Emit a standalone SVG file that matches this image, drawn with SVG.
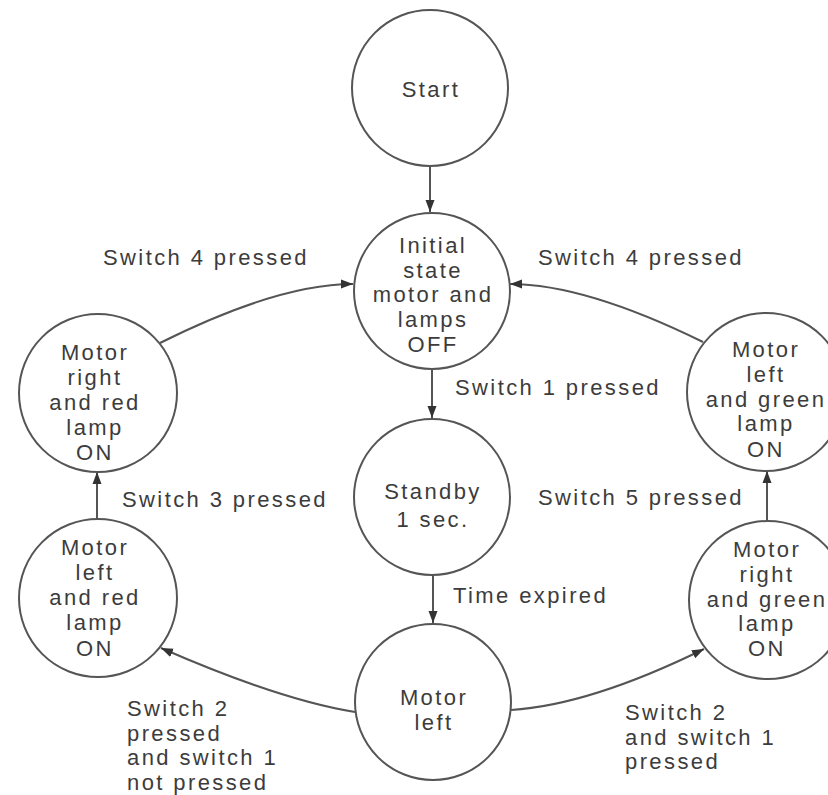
<svg xmlns="http://www.w3.org/2000/svg" width="828" height="795" viewBox="0 0 828 795">
<style>
.n{fill:#fff;stroke:#555;stroke-width:2}
text{font-family:"Liberation Sans",Arial,sans-serif;font-size:22px;fill:#3c3c3c;letter-spacing:2.4px}
.c{text-anchor:middle}
.e{fill:none;stroke:#555;stroke-width:2}
</style>
<defs>
<marker id="ah" markerUnits="userSpaceOnUse" markerWidth="14" markerHeight="10" refX="12" refY="5" orient="auto">
<path d="M0,0.5 L12,5 L0,9.5 Z" fill="#333"/>
</marker>
</defs>
<rect width="828" height="795" fill="#fff"/>
<g id="connectors">
<path class="e" d="M430,166 L430,212" marker-end="url(#ah)"/>
<path class="e" d="M432,369 L432,418" marker-end="url(#ah)"/>
<path class="e" d="M433,575 L433,623" marker-end="url(#ah)"/>
<path class="e" d="M97,520 L97,472" marker-end="url(#ah)"/>
<path class="e" d="M767,521 L767,471" marker-end="url(#ah)"/>
<path class="e" d="M160,343 Q278,284 353,284" marker-end="url(#ah)"/>
<path class="e" d="M703,342 Q585,284 510,284" marker-end="url(#ah)"/>
<path class="e" d="M355,712 Q280,700 161,648" marker-end="url(#ah)"/>
<path class="e" d="M511,710 Q590,705 704,649" marker-end="url(#ah)"/>
<text x="103" y="265">Switch 4 pressed</text>
<text x="538" y="265">Switch 4 pressed</text>
<text x="455" y="395">Switch 1 pressed</text>
<text x="122" y="507">Switch 3 pressed</text>
<text x="538" y="505">Switch 5 pressed</text>
<text x="453" y="603">Time expired</text>
<text x="127" y="716">Switch 2</text>
<text x="127" y="740.7">pressed</text>
<text x="127" y="765.4">and switch 1</text>
<text x="127" y="790.1">not pressed</text>
<text x="625" y="720">Switch 2</text>
<text x="625" y="744.7">and switch 1</text>
<text x="625" y="769.4">pressed</text>
</g>
<g id="start">
<circle class="n" cx="430" cy="88" r="78"/>
<text class="c" x="431" y="97">Start</text>
</g>
<g id="initial">
<circle class="n" cx="432" cy="291" r="78"/>
<text class="c" x="433" y="253">Initial</text>
<text class="c" x="433" y="277.7">state</text>
<text class="c" x="433" y="302.4">motor and</text>
<text class="c" x="433" y="327.1">lamps</text>
<text class="c" x="433" y="351.8">OFF</text>
</g>
<g id="standby">
<circle class="n" cx="432" cy="497" r="78"/>
<text class="c" x="433" y="499">Standby</text>
<text class="c" x="433" y="527">1 sec.</text>
</g>
<g id="motor-left">
<circle class="n" cx="433" cy="702" r="78"/>
<text class="c" x="434" y="705">Motor</text>
<text class="c" x="434" y="730">left</text>
</g>
<g id="motor-right-red">
<circle class="n" cx="98" cy="393" r="79"/>
<text class="c" x="95" y="360">Motor</text>
<text class="c" x="95" y="385">right</text>
<text class="c" x="95" y="410">and red</text>
<text class="c" x="95" y="435">lamp</text>
<text class="c" x="95" y="460">ON</text>
</g>
<g id="motor-left-red">
<circle class="n" cx="98" cy="598" r="79"/>
<text class="c" x="95" y="555">Motor</text>
<text class="c" x="95" y="580">left</text>
<text class="c" x="95" y="605">and red</text>
<text class="c" x="95" y="630">lamp</text>
<text class="c" x="95" y="656">ON</text>
</g>
<g id="motor-left-green">
<circle class="n" cx="766" cy="392" r="79"/>
<text class="c" x="766" y="357">Motor</text>
<text class="c" x="766" y="382">left</text>
<text class="c" x="766" y="406.7">and green</text>
<text class="c" x="766" y="431.4">lamp</text>
<text class="c" x="766" y="457">ON</text>
</g>
<g id="motor-right-green">
<circle class="n" cx="768" cy="600" r="79"/>
<text class="c" x="767" y="557">Motor</text>
<text class="c" x="767" y="582">right</text>
<text class="c" x="767" y="606.7">and green</text>
<text class="c" x="767" y="631.4">lamp</text>
<text class="c" x="767" y="656.1">ON</text>
</g>
</svg>
